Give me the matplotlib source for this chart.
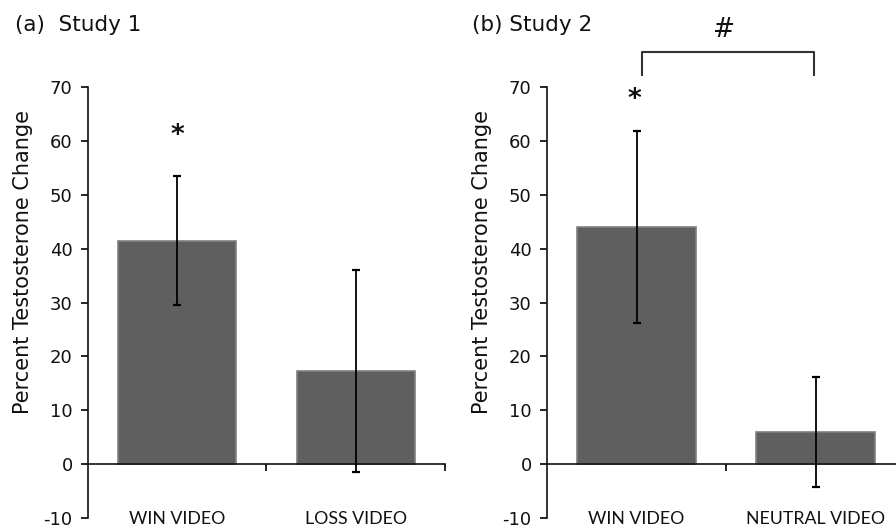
import matplotlib.pyplot as plt

plt.rcParams['font.family'] = ['DejaVu Sans']

# values
cats_1 = ['WIN VIDEO', 'LOSS VIDEO']
means_1 = [41.5, 17.3]
err_1 = [12.0, 18.8]

cats_2 = ['WIN VIDEO', 'NEUTRAL VIDEO']
means_2 = [44.0, 6.0]
err_2 = [17.8, 10.2]

yticks = [-10, 0, 10, 20, 30, 40, 50, 60, 70]

bar_color = '#5f5f5f'
text_color = '#111111'

fig = plt.figure(figsize=(8.96, 5.28), dpi=100)
ax1 = fig.add_axes([0.0982, 0.0189, 0.3984, 0.8163])
ax2 = fig.add_axes([0.6105, 0.0189, 0.3996, 0.8163])


def draw_panel(ax, cats, means, errs, title, title_x):
    x = list(range(len(cats)))
    ax.bar(x, means, width=0.66, color=bar_color, edgecolor='#808080',
           linewidth=1.2, zorder=2)
    ax.errorbar(x, means, yerr=errs, fmt='none', ecolor='black',
                elinewidth=1.3, capsize=3.2, capthick=1.6, zorder=3)

    ax.set_xlim(-0.5, 1.5)
    ax.set_ylim(-10, 70)
    ax.set_yticks(yticks)
    ax.set_yticklabels([str(t) for t in yticks], fontsize=13, color=text_color)
    ax.set_xticks([0.5, 1.5])
    ax.set_xticklabels([])

    ax.spines['top'].set_visible(False)
    ax.spines['right'].set_visible(False)
    ax.spines['bottom'].set_position(('data', 0))
    ax.spines['left'].set_bounds(-10, 70)
    for s in ['left', 'bottom']:
        ax.spines[s].set_linewidth(1.2)
        ax.spines[s].set_color('#111111')
    ax.tick_params(axis='y', direction='out', length=5, width=1.2, pad=6)
    ax.tick_params(axis='x', direction='out', length=5, width=1.2)

    ax.set_ylabel('Percent Testosterone Change', fontsize=15, color=text_color)
    ax.yaxis.set_label_coords(-0.155, 0.594)

    # category names sit under the -10 tick, right at the figure edge
    for xi, c in zip(x, cats):
        ax.text(xi, -11.75, c, ha='center', va='bottom', fontsize=12.8,
                family='Lato', color=text_color, clip_on=False)

    fig.text(title_x, 0.953, title, fontsize=15.5, color=text_color,
             ha='left', va='center')


draw_panel(ax1, cats_1, means_1, err_1, '(a)  Study 1', 0.017)
draw_panel(ax2, cats_2, means_2, err_2, '(b) Study 2', 0.527)

# significance marks
ax1.text(0, 61.0, '*', ha='center', va='center', fontsize=19,
         fontweight='bold', color=text_color)
ax2.text(-0.01, 67.5, '*', ha='center', va='center', fontsize=19,
         fontweight='bold', color=text_color, clip_on=False)
ax2.plot([0.03, 0.03, 0.99, 0.99], [72.2, 76.5, 76.5, 72.2],
         color='#333333', linewidth=1.5, clip_on=False)
ax2.text(0.49, 80.6, '#', ha='center', va='center', fontsize=19,
         color=text_color, clip_on=False)

plt.savefig('out.png', dpi=100)
